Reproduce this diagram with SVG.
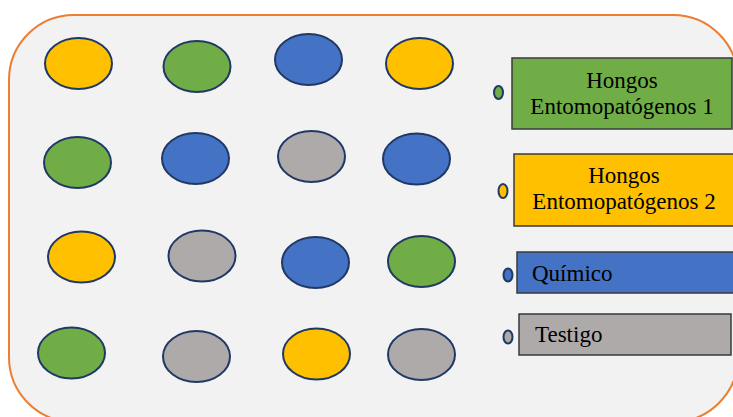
<svg xmlns="http://www.w3.org/2000/svg" width="733" height="417" viewBox="0 0 733 417">
<style>
.dot{stroke:#203864;stroke-width:2}
.g{fill:#70AD47}.y{fill:#FFC000}.b{fill:#4472C4}.s{fill:#AEAAAA}
.box{stroke:#3A3A3A;stroke-width:1.5}
text{font-family:"Liberation Serif","Times New Roman",serif;font-size:23px;fill:#000}
</style>
<rect width="733" height="417" fill="#FFFFFF"/>
<rect id="frame" x="9" y="15" width="729" height="407" rx="65" ry="65" fill="#F2F2F2" stroke="#ED7D31" stroke-width="2"/>
<g id="plots">
<g id="r1c1"><ellipse class="dot y" cx="78.5" cy="63.5" rx="33.5" ry="25.5"/></g>
<g id="r1c2"><ellipse class="dot g" cx="197" cy="66.5" rx="33.5" ry="25.5"/></g>
<g id="r1c3"><ellipse class="dot b" cx="308.5" cy="59.5" rx="33.5" ry="25.5"/></g>
<g id="r1c4"><ellipse class="dot y" cx="419.5" cy="63.5" rx="33.5" ry="25.5"/></g>
<g id="r2c1"><ellipse class="dot g" cx="77.5" cy="162.5" rx="33.5" ry="25.5"/></g>
<g id="r2c2"><ellipse class="dot b" cx="195.5" cy="158.5" rx="33.5" ry="25.5"/></g>
<g id="r2c3"><ellipse class="dot s" cx="311.5" cy="156.5" rx="33.5" ry="25.5"/></g>
<g id="r2c4"><ellipse class="dot b" cx="416.5" cy="159" rx="33.5" ry="25.5"/></g>
<g id="r3c1"><ellipse class="dot y" cx="81.5" cy="257" rx="33.5" ry="25.5"/></g>
<g id="r3c2"><ellipse class="dot s" cx="202" cy="256" rx="33.5" ry="25.5"/></g>
<g id="r3c3"><ellipse class="dot b" cx="315.5" cy="262.5" rx="33.5" ry="25.5"/></g>
<g id="r3c4"><ellipse class="dot g" cx="421.5" cy="261.5" rx="33.5" ry="25.5"/></g>
<g id="r4c1"><ellipse class="dot g" cx="71.5" cy="353" rx="33.5" ry="25.5"/></g>
<g id="r4c2"><ellipse class="dot s" cx="196.5" cy="356.5" rx="33.5" ry="25.5"/></g>
<g id="r4c3"><ellipse class="dot y" cx="316.5" cy="354" rx="33.5" ry="25.5"/></g>
<g id="r4c4"><ellipse class="dot s" cx="421.5" cy="354.5" rx="33.5" ry="25.5"/></g>
</g>
<g id="legend-hongos1">
<ellipse class="dot g" cx="498.5" cy="92.5" rx="4.5" ry="6.5"/>
<rect class="box g" x="512" y="58" width="220" height="71"/>
<text x="622" y="88" text-anchor="middle">Hongos</text>
<text x="622" y="114" text-anchor="middle">Entomopatógenos 1</text>
</g>
<g id="legend-hongos2">
<ellipse class="dot y" cx="503" cy="191" rx="4.5" ry="7"/>
<rect class="box y" x="514" y="154" width="225" height="72"/>
<text x="624" y="183" text-anchor="middle">Hongos</text>
<text x="624" y="209" text-anchor="middle">Entomopatógenos 2</text>
</g>
<g id="legend-quimico">
<ellipse class="dot b" cx="508" cy="275" rx="4.5" ry="6.5"/>
<rect class="box b" x="517" y="252" width="222" height="41"/>
<text x="532" y="281">Químico</text>
</g>
<g id="legend-testigo">
<ellipse class="dot s" cx="508" cy="337" rx="4.5" ry="6.5"/>
<rect class="box s" x="519" y="314" width="212" height="41"/>
<text x="535" y="342">Testigo</text>
</g>
<g id="connectors"/>
</svg>
